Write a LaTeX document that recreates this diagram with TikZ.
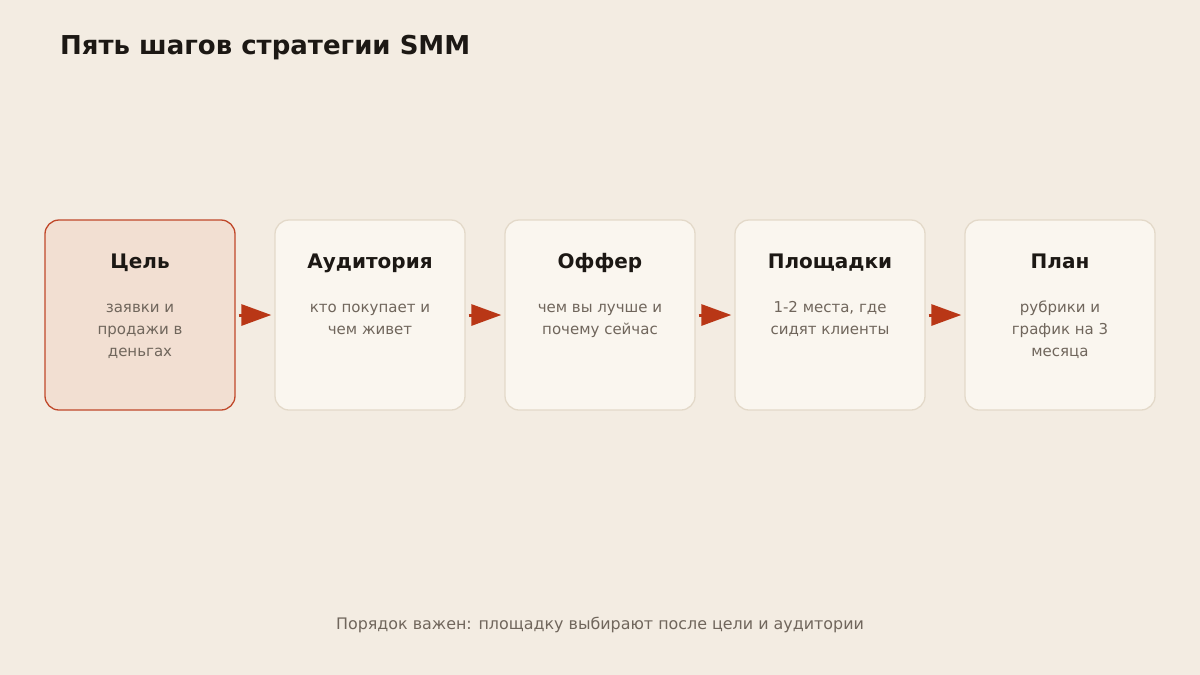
\documentclass[tikz,border=0pt]{standalone}
\usepackage{fontspec}
\setmainfont{DejaVu Sans}
\usetikzlibrary{arrows.meta}
\definecolor{bg}{RGB}{243,236,226}
\definecolor{hifill}{RGB}{242,223,210}
\definecolor{hiborder}{RGB}{192,72,42}
\definecolor{boxfill}{RGB}{250,246,239}
\definecolor{boxborder}{RGB}{227,217,201}
\definecolor{arrowc}{RGB}{185,55,22}
\definecolor{titlec}{RGB}{28,24,20}
\definecolor{bodyc}{RGB}{112,102,92}
\newcommand\firststrut{\rule{0pt}{12pt}}
\tikzset{
  card/.style={draw=boxborder, fill=boxfill, line width=1.3pt, rounded corners=14pt, minimum width=190pt, minimum height=190pt, inner sep=0pt},
  hicard/.style={card, draw=hiborder, fill=hifill},
  head/.style={text=titlec, font=\fontsize{20}{24}\selectfont\bfseries, inner sep=0pt, anchor=base},
  body/.style={text=bodyc, font=\fontsize{15}{22}\selectfont, align=center, inner sep=0pt, anchor=north},
  flow/.style={draw=arrowc, line width=3pt, -{Triangle[length=30pt,width=21pt]}, shorten <=3pt, shorten >=3pt},
}
\begin{document}
\begin{tikzpicture}[x=1pt,y=-1pt]
\path[fill=bg, use as bounding box] (0,0) rectangle (1200,675);
\node[anchor=base west, text=titlec, font=\fontsize{26}{30}\selectfont\bfseries, inner sep=0pt] (title) at (60,54) {Пять шагов стратегии SMM};

\node[hicard] (b1) at (140,315) {};
\node[card] (b2) at (370,315) {};
\node[card] (b3) at (600,315) {};
\node[card] (b4) at (830,315) {};
\node[card] (b5) at (1060,315) {};

\node[head] (h1) at (140,268) {Цель};
\node[head] (h2) at (370,268) {Аудитория};
\node[head] (h3) at (600,268) {Оффер};
\node[head] (h4) at (830,268) {Площадки};
\node[head] (h5) at (1060,268) {План};

\node[body] (t1) at (140,300) {\firststrut заявки и\\продажи в\\деньгах};
\node[body] (t2) at (370,300) {\firststrut кто покупает и\\чем живет};
\node[body] (t3) at (600,300) {\firststrut чем вы лучше и\\почему сейчас};
\node[body] (t4) at (830,300) {\firststrut 1-2 места, где\\сидят клиенты};
\node[body] (t5) at (1060,300) {\firststrut рубрики и\\график на 3\\месяца};

\draw[flow] (b1) -- (b2);
\draw[flow] (b2) -- (b3);
\draw[flow] (b3) -- (b4);
\draw[flow] (b4) -- (b5);

\node[text=bodyc, font=\fontsize{15.9}{19}\selectfont, inner sep=0pt, anchor=base] (foot) at (600,629) {Порядок важен: площадку выбирают после цели и аудитории};
\end{tikzpicture}
\end{document}
